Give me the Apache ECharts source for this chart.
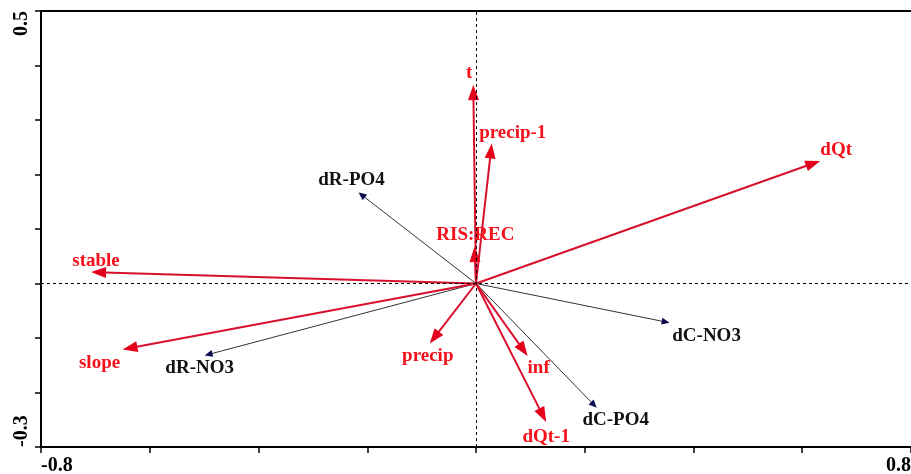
<!DOCTYPE html>
<html>
<head>
<meta charset="utf-8">
<script src="https://cdn.jsdelivr.net/npm/echarts@6/dist/echarts.min.js"></script>
<style>html,body{margin:0;padding:0;background:#fff;}#c{width:911px;height:474px;}</style>
</head>
<body>
<div id="c"></div>
<script>
// Environmental variables (red arrows)
const envNames = ['t', 'precip-1', 'RIS:REC', 'dQt', 'stable', 'slope', 'precip', 'inf', 'dQt-1'];
const envX = [-0.005, 0.029, -0.003, 0.633, -0.708, -0.650, -0.085, 0.095, 0.129];
const envY = [0.364, 0.257, 0.067, 0.225, 0.021, -0.121, -0.110, -0.133, -0.254];
// Response variables (black arrows)
const respNames = ['dR-PO4', 'dR-NO3', 'dC-NO3', 'dC-PO4'];
const respX = [-0.216, -0.499, 0.356, 0.222];
const respY = [0.167, -0.132, -0.072, -0.228];
// Tick labels shown
const xTickLabels = ['-0.8', '0.8'];
const yTickLabels = ['-0.3', '0.5'];

// label offsets (pixels, style only)
const envLabelOffset = [[-4,-12],[21,-10],[1,-12],[16,-11],[5,-11],[-23,14],[-2,13],[11,12],[0,15]];
const respLabelOffset = [[-7,-12],[-5,13],[37,13],[19,12]];

const FONT = 'bold 19px "Liberation Serif", "DejaVu Serif", serif';

function makeRender(offsets, opts) {
  return function (params, api) {
    const x = api.value(0), y = api.value(1);
    const p0 = api.coord([0, 0]);
    const p1 = api.coord([x, y]);
    const dx = p1[0] - p0[0], dy = p1[1] - p0[1];
    const len = Math.sqrt(dx * dx + dy * dy) || 1;
    const ux = dx / len, uy = dy / len;
    const nx = -uy, ny = ux;
    const L = opts.headLen, W = opts.headW;
    const bx = p1[0] - ux * L, by = p1[1] - uy * L;
    const off = offsets[params.dataIndex];
    return {
      type: 'group',
      children: [
        { type: 'line', shape: { x1: p0[0], y1: p0[1], x2: bx + ux * 2, y2: by + uy * 2 },
          style: { stroke: opts.lineColor, lineWidth: opts.lineWidth } },
        { type: 'polygon', shape: { points: [[p1[0], p1[1]], [bx + nx * W, by + ny * W], [bx - nx * W, by - ny * W]] },
          style: { fill: opts.headColor } },
        { type: 'text', x: p1[0] + off[0], y: p1[1] + off[1],
          style: { text: api.value(2), fill: opts.textColor, font: FONT, align: 'center', verticalAlign: 'middle' } }
      ]
    };
  };
}

const chart = echarts.init(document.getElementById('c'), null, { renderer: 'canvas' });
const tickFont = { fontFamily: '"Liberation Serif", serif', fontWeight: 'bold', fontSize: 20, color: '#000' };

function near(v, s) { return Math.abs(v - parseFloat(s)) < 1e-6; }

chart.setOption({
  animation: false,
  backgroundColor: '#fff',
  grid: { left: 41, right: 0, top: 11, bottom: 27, containLabel: false, outerBoundsMode: 'none' },
  xAxis: [{
    type: 'value', min: -0.8, max: 0.8, interval: 0.2,
    axisLine: { show: true, onZero: false, lineStyle: { color: '#000', width: 2 } },
    axisTick: { show: true, length: 6, lineStyle: { color: '#000', width: 1.5 } },
    splitLine: { show: false },
    axisLabel: Object.assign({
      margin: 9, showMinLabel: true, showMaxLabel: true,
      alignMinLabel: 'left', alignMaxLabel: 'right',
      formatter: function (v) { for (const s of xTickLabels) if (near(v, s)) return s; return ''; }
    }, tickFont)
  }, {
    type: 'value', min: -0.8, max: 0.8, position: 'top',
    axisLine: { show: true, onZero: false, lineStyle: { color: '#000', width: 2 } },
    axisTick: { show: false }, axisLabel: { show: false }, splitLine: { show: false }
  }],
  yAxis: {
    type: 'value', min: -0.3, max: 0.5, interval: 0.1,
    axisLine: { show: true, onZero: false, lineStyle: { color: '#000', width: 2 } },
    axisTick: { show: true, length: 6, lineStyle: { color: '#000', width: 1.5 } },
    splitLine: { show: false },
    axisLabel: Object.assign({
      rotate: 90, margin: 9, showMinLabel: true, showMaxLabel: true,
      alignMinLabel: 'left', alignMaxLabel: 'right',
      formatter: function (v) { for (const s of yTickLabels) if (near(v, s)) return s; return ''; }
    }, tickFont)
  },
  series: [
    {
      type: 'line', data: [], silent: true,
      markLine: {
        silent: true, symbol: ['none', 'none'], animation: false,
        label: { show: false },
        lineStyle: { color: '#000', width: 1, type: [3, 3] },
        data: [{ xAxis: 0 }, { yAxis: 0 }]
      }
    },
    {
      type: 'custom', silent: true,
      renderItem: makeRender(respLabelOffset, { headLen: 8, headW: 3.5, lineColor: '#333', lineWidth: 1, headColor: '#0a0a50', textColor: '#111' }),
      data: respNames.map((n, i) => [respX[i], respY[i], n])
    },
    {
      type: 'custom', silent: true,
      renderItem: makeRender(envLabelOffset, { headLen: 15, headW: 5.5, lineColor: '#d8102e', lineWidth: 2, headColor: '#e4001b', textColor: '#f5101a' }),
      data: envNames.map((n, i) => [envX[i], envY[i], n])
    }
  ]
});
</script>
</body>
</html>
